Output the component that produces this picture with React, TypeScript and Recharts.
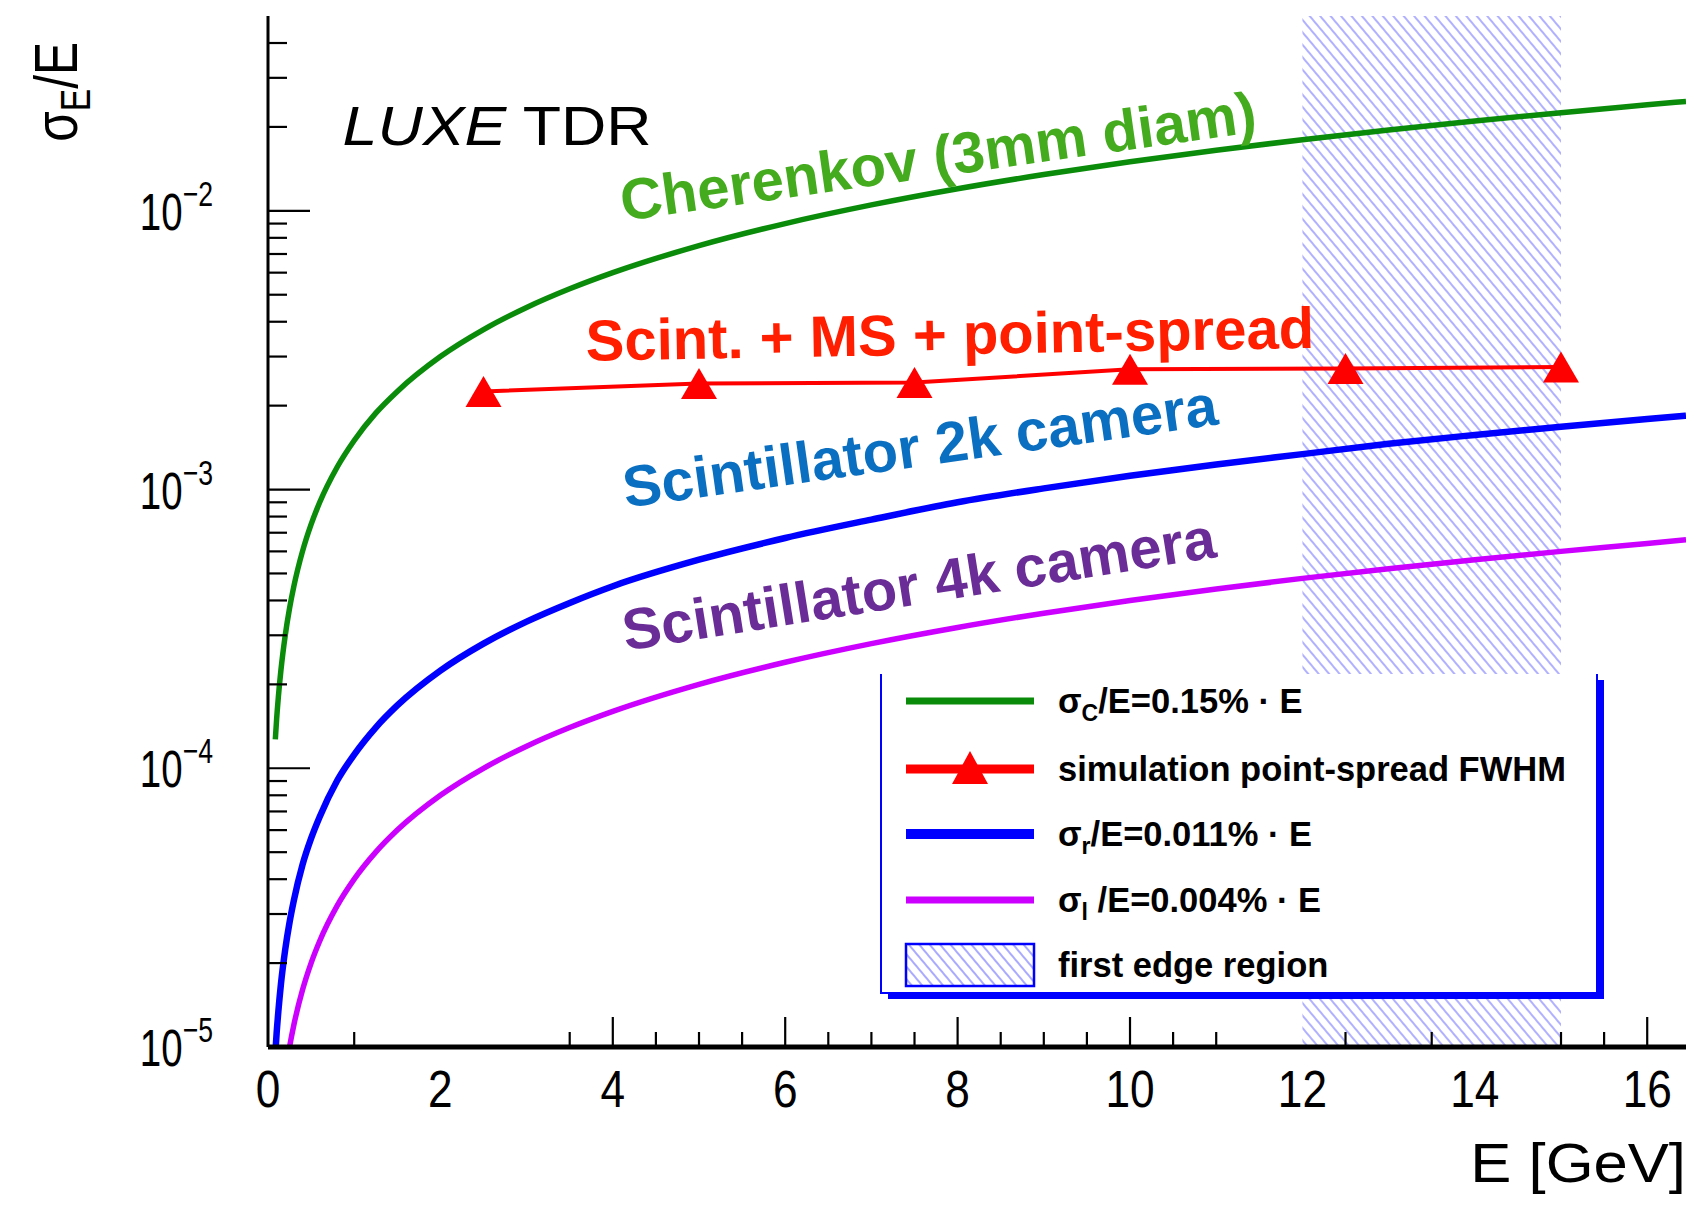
import React from 'react';
import { LineChart, Line, XAxis, YAxis, ReferenceArea, ReferenceDot } from 'recharts';

const FONT = '"Liberation Sans", Arial, Helvetica, sans-serif';

const energyGrid = [0.085, 0.1, 0.12, 0.15, 0.2, 0.25, 0.3, 0.4, 0.5, 0.6, 0.8, 1.0, 1.25, 1.5, 2, 2.5, 3, 3.5, 4, 5, 6, 7, 8, 9, 10, 11, 12, 13, 14, 15, 16, 16.45];
const cherenkovRes = [1.27e-4, 1.5e-4, 1.8e-4, 2.25e-4, 3.0e-4, 3.75e-4, 4.5e-4, 6.0e-4, 7.5e-4, 9.0e-4, 1.2e-3, 1.5e-3, 1.88e-3, 2.25e-3, 3.0e-3, 3.75e-3, 4.5e-3, 5.25e-3, 6.0e-3, 7.5e-3, 9.0e-3, 1.05e-2, 1.2e-2, 1.35e-2, 1.5e-2, 1.65e-2, 1.8e-2, 1.95e-2, 2.1e-2, 2.25e-2, 2.4e-2, 2.47e-2];
const scint2kRes = [9.5e-6, 1.12e-5, 1.34e-5, 1.68e-5, 2.24e-5, 2.8e-5, 3.36e-5, 4.5e-5, 5.6e-5, 6.7e-5, 9.0e-5, 1.12e-4, 1.4e-4, 1.68e-4, 2.24e-4, 2.8e-4, 3.36e-4, 3.92e-4, 4.5e-4, 5.6e-4, 6.7e-4, 7.8e-4, 9.0e-4, 1.01e-3, 1.12e-3, 1.23e-3, 1.34e-3, 1.46e-3, 1.57e-3, 1.68e-3, 1.79e-3, 1.84e-3];
const scint4kRes = [3.4e-6, 4.0e-6, 4.8e-6, 6.0e-6, 8.0e-6, 1.0e-5, 1.2e-5, 1.6e-5, 2.0e-5, 2.4e-5, 3.2e-5, 4.0e-5, 5.0e-5, 6.0e-5, 8.0e-5, 1.0e-4, 1.2e-4, 1.4e-4, 1.6e-4, 2.0e-4, 2.4e-4, 2.8e-4, 3.2e-4, 3.6e-4, 4.0e-4, 4.4e-4, 4.8e-4, 5.2e-4, 5.6e-4, 6.0e-4, 6.4e-4, 6.6e-4];

// Simulation point-spread FWHM points
const simEnergy = [2.5, 5, 7.5, 10, 12.5, 15];
const simRes = [2.25e-3, 2.4e-3, 2.42e-3, 2.7e-3, 2.72e-3, 2.75e-3];

// First edge region (GeV)
const edgeStart = 12;
const edgeEnd = 15;

// Axis ticks
const xLabelTicks = [0, 2, 4, 6, 8, 10, 12, 14, 16];
const xMajorMarks = [4, 6, 8, 10, 16];
const xMinorMarks = [1, 3.5, 4.5, 5, 5.5, 6.5, 7, 7.5, 8.5, 9, 9.5, 10.5, 11, 12.5, 13.5, 15, 15.5];
const yMajorTicks = [1e-5, 1e-4, 1e-3, 1e-2];
const yExponents = ['\u22125', '\u22124', '\u22123', '\u22122'];
const yMinorTicks = [
  2e-5, 3e-5, 4e-5, 5e-5, 6e-5, 7e-5, 8e-5, 9e-5,
  2e-4, 3e-4, 4e-4, 5e-4, 6e-4, 7e-4, 8e-4, 9e-4,
  2e-3, 3e-3, 4e-3, 5e-3, 6e-3, 7e-3, 8e-3, 9e-3,
  2e-2, 3e-2, 4e-2,
];

const X_DOMAIN: [number, number] = [0, 16.45];
const Y_DOMAIN: [number, number] = [1e-5, 0.05];

const cherenkovData = energyGrid.map((e, i) => ({ e, v: cherenkovRes[i] }));
const scint2kData = energyGrid.map((e, i) => ({ e, v: scint2kRes[i] }));
const scint4kData = energyGrid.map((e, i) => ({ e, v: scint4kRes[i] }));
const simData = simEnergy.map((e, i) => ({ e, v: simRes[i] }));

const xTickValues = Array.from(new Set([...xLabelTicks, ...xMajorMarks, ...xMinorMarks])).sort((a, b) => a - b);
const xMarkValues = [...xMajorMarks, ...xMinorMarks].sort((a, b) => a - b);
const yTickValues = [...yMajorTicks, ...yMinorTicks].sort((a, b) => a - b);

const curveLabels = [
  { text: 'Cherenkov (3mm diam)', e: 4.12, v: 9.2e-3, color: '#44aa1e', angle: -8 },
  { text: 'Scint. + MS + point-spread', e: 3.69, v: 2.9e-3, color: '#ff1e00', angle: -1 },
  { text: 'Scintillator 2k camera', e: 4.15, v: 8.6e-4, color: '#0a6fc0', angle: -8 },
  { text: 'Scintillator 4k camera', e: 4.15, v: 2.64e-4, color: '#6a2c96', angle: -9 },
];

const TICK_W = 2.2;

const BottomTick = (props: any) => {
  const { x, y, payload } = props;
  const v = payload.value;
  const len = xMajorMarks.includes(v) ? 30 : xMinorMarks.includes(v) ? 15 : 0;
  return (
    <g>
      {len > 0 && <line x1={x} x2={x} y1={y} y2={y - len} stroke="#000" strokeWidth={TICK_W} />}
      {xLabelTicks.includes(v) && (
        <text
          x={0}
          y={0}
          transform={`translate(${x}, ${y + 60}) scale(0.85, 1)`}
          textAnchor="middle"
          fontFamily={FONT}
          fontSize={52}
          fill="#000"
        >
          {v}
        </text>
      )}
    </g>
  );
};

const TopTick = (props: any) => {
  const { x, y, payload } = props;
  const v = payload.value;
  const len = xMajorMarks.includes(v) ? 30 : 15;
  return <line x1={x} x2={x} y1={y} y2={y + len} stroke="#000" strokeWidth={TICK_W} />;
};

const LeftTick = (props: any) => {
  const { x, y, payload } = props;
  const v = payload.value;
  const mi = yMajorTicks.indexOf(v);
  const len = mi >= 0 ? 42 : 19;
  return (
    <g>
      <line x1={x} x2={x + len} y1={y} y2={y} stroke="#000" strokeWidth={TICK_W} />
      {mi >= 0 && (
        <text
          x={0}
          y={0}
          transform={`translate(${x - 55}, ${y + 19}) scale(0.74, 1)`}
          textAnchor="end"
          fontFamily={FONT}
          fontSize={52}
          fill="#000"
        >
          10
          <tspan fontSize={36} dy={-24}>
            {yExponents[mi]}
          </tspan>
        </text>
      )}
    </g>
  );
};

const RightTick = (props: any) => {
  const { x, y, payload } = props;
  const v = payload.value;
  const len = yMajorTicks.includes(v) ? 42 : 19;
  return <line x1={x} x2={x - len} y1={y} y2={y} stroke="#000" strokeWidth={TICK_W} />;
};

const TriangleDot = (props: any) => {
  const { cx, cy } = props;
  if (cx == null || cy == null) return <g />;
  const w = 36;
  const h = 31;
  return (
    <polygon
      points={`${cx},${cy - h / 2} ${cx - w / 2},${cy + h / 2} ${cx + w / 2},${cy + h / 2}`}
      fill="#ff0000"
    />
  );
};

const LegendOverlay = () => {
  const lx1 = 906;
  const lx2 = 1034;
  const tx = 1058;
  return (
    <svg
      width={1689}
      height={1226}
      style={{ position: 'absolute', left: 0, top: 0, pointerEvents: 'none' }}
    >
      <defs>
        <pattern id="legendHatch" patternUnits="userSpaceOnUse" width={8} height={8} patternTransform="rotate(-40)">
          <line x1={1} y1={0} x2={1} y2={8} stroke="#7c7cff" strokeWidth={1.3} />
        </pattern>
      </defs>
      <g fontFamily={FONT} fontWeight="bold" fontSize={34.5} fill="#000">
        <rect x={881} y={674} width={716} height={319} fill="#ffffff" />
        <path d="M881,674 L881,993 L1597,993 L1597,674" fill="none" stroke="#0000ff" strokeWidth={2} />
        <rect x={1597} y={680} width={7} height={319} fill="#0000ff" />
        <rect x={888} y={993} width={716} height={6} fill="#0000ff" />

        <line x1={lx1} x2={lx2} y1={701} y2={701} stroke="#0a8c0a" strokeWidth={7} />
        <text x={tx} y={713}>
          σ<tspan fontSize={23} dy={8}>C</tspan>
          <tspan dy={-8}>/E=0.15%  · E</tspan>
        </text>

        <line x1={lx1} x2={lx2} y1={769} y2={769} stroke="#ff0000" strokeWidth={9} />
        <polygon points={`970,751 952,784 988,784`} fill="#ff0000" />
        <text x={tx} y={781}>simulation point-spread FWHM</text>

        <line x1={lx1} x2={lx2} y1={834} y2={834} stroke="#0000ff" strokeWidth={10} />
        <text x={tx} y={846}>
          σ<tspan fontSize={23} dy={8}>r</tspan>
          <tspan dy={-8}>/E=0.011%  · E</tspan>
        </text>

        <line x1={lx1} x2={lx2} y1={900} y2={900} stroke="#cc00ff" strokeWidth={7} />
        <text x={tx} y={912}>
          σ<tspan fontSize={23} dy={8}>l</tspan>
          <tspan dy={-8}> /E=0.004%  · E</tspan>
        </text>

        <rect x={lx1} y={944} width={lx2 - lx1} height={42} fill="url(#legendHatch)" stroke="#0000ff" strokeWidth={2.5} />
        <text x={tx} y={977}>first edge region</text>
      </g>
    </svg>
  );
};

export default function App() {
  return (
    <div style={{ position: 'absolute', left: 0, top: 0, width: 1689, height: 1226, overflow: 'hidden', background: '#fff' }}>
      <LineChart width={1689} height={1226} margin={{ top: 16, right: 3, bottom: 0, left: 0 }}>
        <defs>
          <pattern id="edgeHatch" patternUnits="userSpaceOnUse" width={8} height={8} patternTransform="rotate(-40)">
            <line x1={1} y1={0} x2={1} y2={8} stroke="#7c7cff" strokeWidth={1.2} />
          </pattern>
        </defs>
        <XAxis
          xAxisId="b"
          dataKey="e"
          type="number"
          domain={X_DOMAIN}
          allowDataOverflow
          ticks={xTickValues}
          interval={0}
          tickSize={0}
          tickMargin={0}
          tickLine={false}
          axisLine={{ stroke: '#000', strokeWidth: 5 }}
          tick={(p: any) => <BottomTick {...p} />}
          height={179}
        />
        <XAxis
          xAxisId="t"
          orientation="top"
          dataKey="e"
          type="number"
          domain={X_DOMAIN}
          allowDataOverflow
          ticks={xMarkValues}
          interval={0}
          tickSize={0}
          tickMargin={0}
          tickLine={false}
          axisLine={{ stroke: '#000', strokeWidth: 3 }}
          tick={(p: any) => <TopTick {...p} />}
          height={0}
        />
        <YAxis
          yAxisId="l"
          type="number"
          scale="log"
          domain={Y_DOMAIN}
          allowDataOverflow
          ticks={yTickValues}
          interval={0}
          tickSize={0}
          tickMargin={0}
          tickLine={false}
          axisLine={{ stroke: '#000', strokeWidth: 3 }}
          tick={(p: any) => <LeftTick {...p} />}
          width={268}
        />
        <YAxis
          yAxisId="r"
          orientation="right"
          type="number"
          scale="log"
          domain={Y_DOMAIN}
          allowDataOverflow
          ticks={yTickValues}
          interval={0}
          tickSize={0}
          tickMargin={0}
          tickLine={false}
          axisLine={{ stroke: '#000', strokeWidth: 3 }}
          tick={(p: any) => <RightTick {...p} />}
          width={0}
        />

        <ReferenceArea
          xAxisId="b"
          yAxisId="l"
          x1={edgeStart}
          x2={edgeEnd}
          y1={Y_DOMAIN[0]}
          y2={Y_DOMAIN[1]}
          fill="url(#edgeHatch)"
          fillOpacity={1}
          stroke="none"
          ifOverflow="hidden"
        />

        <Line xAxisId="b" yAxisId="l" data={cherenkovData} dataKey="v" type="monotone" stroke="#0a8c0a" strokeWidth={5.5} dot={false} isAnimationActive={false} />
        <Line xAxisId="b" yAxisId="l" data={scint2kData} dataKey="v" type="monotone" stroke="#0000ff" strokeWidth={6.5} dot={false} isAnimationActive={false} />
        <Line xAxisId="b" yAxisId="l" data={scint4kData} dataKey="v" type="monotone" stroke="#cc00ff" strokeWidth={5.5} dot={false} isAnimationActive={false} />
        <Line
          xAxisId="b"
          yAxisId="l"
          data={simData}
          dataKey="v"
          type="linear"
          stroke="#ff0000"
          strokeWidth={4}
          dot={(p: any) => <TriangleDot key={`tri-${p.index}`} {...p} />}
          isAnimationActive={false}
        />

        {curveLabels.map((c) => (
          <ReferenceDot
            key={c.text}
            xAxisId="b"
            yAxisId="l"
            x={c.e}
            y={c.v}
            ifOverflow="visible"
            shape={(p: any) => (
              <text
                x={p.cx}
                y={p.cy}
                transform={`rotate(${c.angle}, ${p.cx}, ${p.cy})`}
                fill={c.color}
                fontFamily={FONT}
                fontWeight="bold"
                fontSize={58}
              >
                {c.text}
              </text>
            )}
          />
        ))}

        <ReferenceDot
          xAxisId="b"
          yAxisId="l"
          x={0.865}
          y={0.0172}
          ifOverflow="visible"
          shape={(p: any) => (
            <text
              x={0}
              y={0}
              transform={`translate(${p.cx}, ${p.cy}) scale(1.12, 1)`}
              fontFamily={FONT}
              fontSize={56}
              fill="#000"
            >
              <tspan fontStyle="italic">LUXE</tspan>
              {' TDR'}
            </text>
          )}
        />

        <ReferenceDot
          xAxisId="b"
          yAxisId="l"
          x={X_DOMAIN[1]}
          y={Y_DOMAIN[0]}
          ifOverflow="visible"
          shape={(p: any) => (
            <text
              x={0}
              y={0}
              transform={`translate(${p.cx}, ${p.cy + 135}) scale(1.1, 1)`}
              textAnchor="end"
              fontFamily={FONT}
              fontSize={56}
              fill="#000"
            >
              E [GeV]
            </text>
          )}
        />

        <ReferenceDot
          xAxisId="b"
          yAxisId="l"
          x={X_DOMAIN[0]}
          y={Y_DOMAIN[1]}
          ifOverflow="visible"
          shape={(p: any) => {
            const tx = p.cx - 191;
            const ty = p.cy + 26;
            return (
              <text
                x={0}
                y={0}
                transform={`translate(${tx}, ${ty}) rotate(-90) scale(0.8, 1)`}
                textAnchor="end"
                fontFamily={FONT}
                fontSize={62}
                fill="#000"
              >
                σ<tspan fontSize={42} dy={13}>E</tspan>
                <tspan dy={-13}>/E</tspan>
              </text>
            );
          }}
        />
      </LineChart>
      <LegendOverlay />
    </div>
  );
}
